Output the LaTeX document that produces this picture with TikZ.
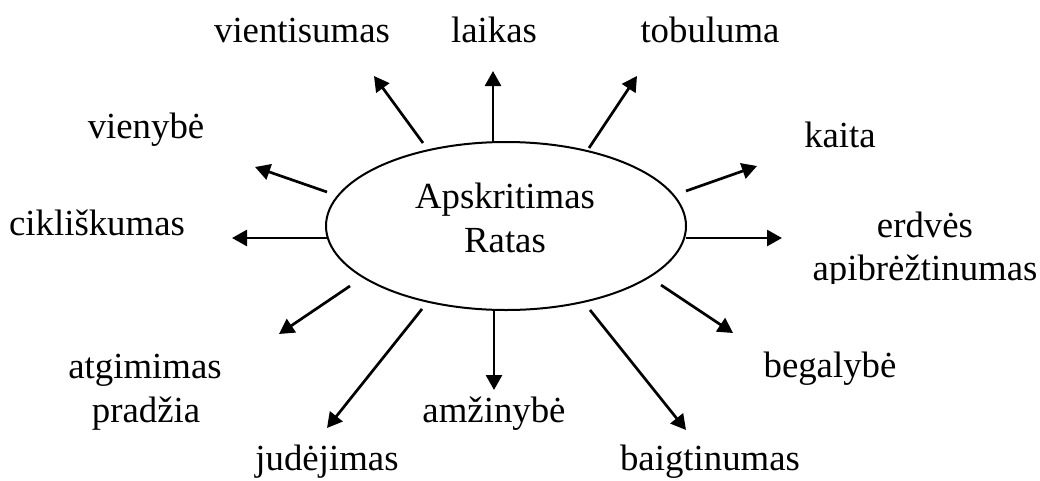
\documentclass[tikz,border=0pt]{standalone}
\usepackage{fontspec}
\setmainfont{Liberation Serif}
\usetikzlibrary{arrows.meta,shapes.geometric}
\begin{document}
\begin{tikzpicture}[x=1pt,y=-1pt,
  lbl/.style={anchor=base, inner sep=0pt, font=\fontsize{36.8}{44}\selectfont},
  arr/.style={line width=2.7pt, -{Triangle[length=15pt,width=16pt]}},
  oval/.style={draw, ellipse, line width=2pt, minimum width=360pt, minimum height=168pt, inner sep=0pt}]
\useasboundingbox (0,0) rectangle (1040,480);
% centre
\node[oval] (c) at (506,226) {};
\node[lbl] (c1) at (505,208) {Apskritimas};
\node[lbl] (c2) at (505,252) {Ratas};
% labels
\node[lbl] (l1) at (302,42) {vientisumas};
\node[lbl] (l2) at (494,42) {laikas};
\node[lbl] (l3) at (710,42) {tobuluma};
\node[lbl] (l4) at (840,147) {kaita};
\node[lbl] (l5a) at (925,237) {erdvės};
\begin{scope}
\clip (790,250) rectangle (1040,283);
\node[lbl] (l5b) at (925,280) {apibrėžtinumas};
\end{scope}
\node[lbl] (l6) at (830,377) {begalybė};
\node[lbl] (l7) at (710,470) {baigtinumas};
\node[lbl] (l8) at (494,422) {amžinybė};
\node[lbl] (l9) at (327,470) {judėjimas};
\node[lbl] (l10a) at (145,378) {atgimimas};
\node[lbl] (l10b) at (146,422) {pradžia};
\node[lbl] (l11) at (97,235) {cikliškumas};
\node[lbl] (l12) at (146,138) {vienybė};
% arrow ends
\coordinate (s1) at (423,143); \coordinate (t1) at (374,76);
\coordinate (s2) at (493,142); \coordinate (t2) at (493,71);
\coordinate (s3) at (589,148); \coordinate (t3) at (637,76);
\coordinate (s4) at (686,191); \coordinate (t4) at (757,166);
\coordinate (s5) at (686,238); \coordinate (t5) at (782,238);
\coordinate (s6) at (661,285); \coordinate (t6) at (733,333);
\coordinate (s7) at (590,310); \coordinate (t7) at (686,430);
\coordinate (s8) at (494,310); \coordinate (t8) at (494,390);
\coordinate (s9) at (422,309); \coordinate (t9) at (327,428);
\coordinate (s10) at (350,286); \coordinate (t10) at (279,334);
\coordinate (s11) at (327,238); \coordinate (t11) at (232,238);
\coordinate (s12) at (327,192); \coordinate (t12) at (255,167);
\foreach \i in {1,...,12} \draw[arr] (s\i) -- (t\i);
\end{tikzpicture}
\end{document}
